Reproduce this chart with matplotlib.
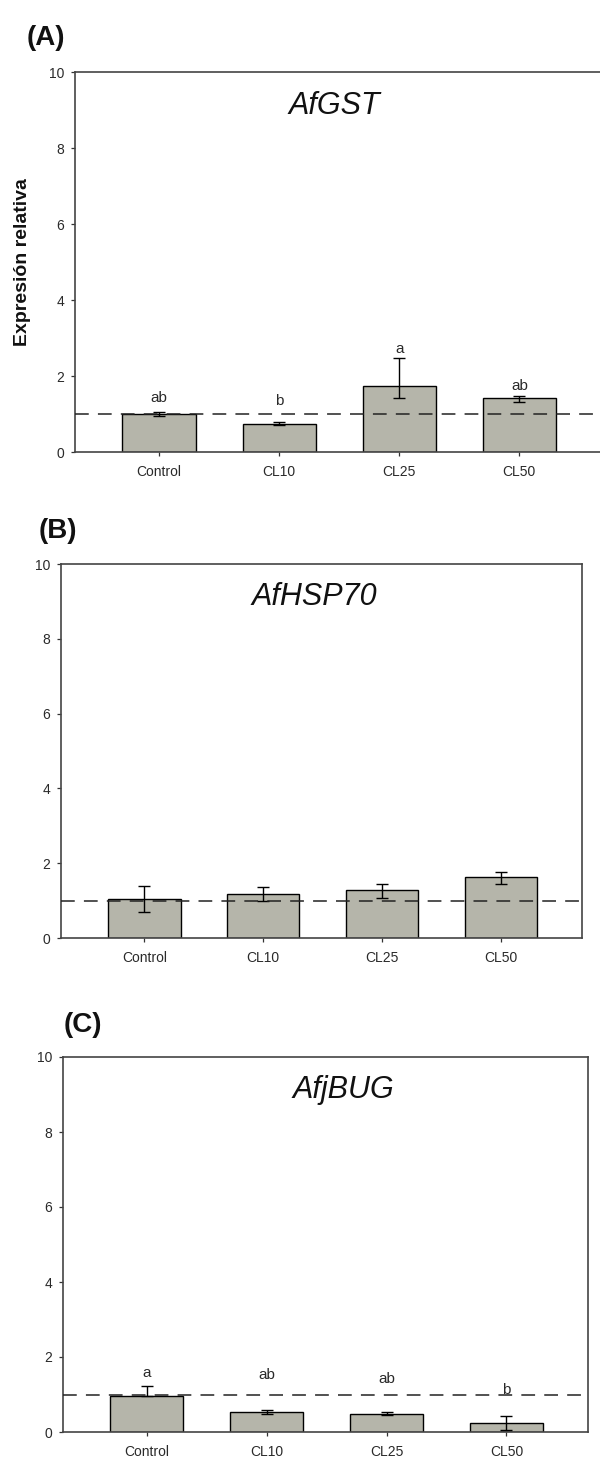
import numpy as np
import matplotlib
matplotlib.use('Agg')
import matplotlib.pyplot as plt

plt.rcParams['font.family'] = ['Liberation Sans', 'DejaVu Sans']

grupos = ['Control', 'CL10', 'CL25', 'CL50']

# (A) AfGST
gst_media = [1.00, 0.74, 1.74, 1.42]
gst_err_inf = [0.04, 0.04, 0.32, 0.10]
gst_err_sup = [0.04, 0.05, 0.73, 0.05]
gst_letras = ['ab', 'b', 'a', 'ab']
gst_letras_y = [1.32, 1.24, 2.61, 1.63]

# (B) AfHSP70
hsp_media = [1.03, 1.18, 1.29, 1.62]
hsp_err_inf = [0.34, 0.18, 0.22, 0.17]
hsp_err_sup = [0.37, 0.18, 0.15, 0.15]

# (C) AfjBUG
bug_media = [0.97, 0.53, 0.49, 0.24]
bug_err_inf = [0.0, 0.05, 0.03, 0.18]
bug_err_sup = [0.27, 0.06, 0.04, 0.18]
bug_letras = ['a', 'ab', 'ab', 'b']
bug_letras_y = [1.46, 1.41, 1.31, 1.01]

paneles = [
    ('(A)', 'AfGST', gst_media, gst_err_inf, gst_err_sup, gst_letras, gst_letras_y),
    ('(B)', 'AfHSP70', hsp_media, hsp_err_inf, hsp_err_sup, None, None),
    ('(C)', 'AfjBUG', bug_media, bug_err_inf, bug_err_sup, bug_letras, bug_letras_y),
]

# posiciones en pixeles (izq, arriba, ancho, alto) medidas sobre la figura 600x1462
cajas = [(75, 72, 526, 380), (61, 564, 521, 374), (63, 1057, 525, 375)]
pos_titulo = [1.46, 1.43, 1.64]
pos_etiqueta = [(46, 38), (58, 531), (83, 1025)]

W, H = 600, 1462
fig = plt.figure(figsize=(6, 14.62), dpi=100)

gris = '#b5b5aa'
texto = '#2a2a2a'
x = np.arange(len(grupos))

for i, (etq, gen, media, e_inf, e_sup, letras, letras_y) in enumerate(paneles):
    l, t, w, h = cajas[i]
    ax = fig.add_axes([l / W, 1 - (t + h) / H, w / W, h / H])
    ax.bar(x, media, width=0.61, color=gris, edgecolor='black', linewidth=1.0, zorder=2)
    ax.errorbar(x, media, yerr=[e_inf, e_sup], fmt='none', ecolor='black',
                elinewidth=1.0, capsize=4.5, capthick=1.0, zorder=3)
    ax.axhline(1.0, color='#222222', linestyle=(0, (9, 6)), linewidth=1.1, zorder=4)
    ax.set_xlim(-0.7, 3.68)
    ax.set_ylim(0, 10)
    ax.set_yticks([0, 2, 4, 6, 8, 10])
    ax.set_xticks(x)
    ax.set_xticklabels(grupos)
    ax.tick_params(axis='both', direction='out', length=3, width=0.9, color='#333333',
                   labelsize=10, labelcolor=texto)
    ax.tick_params(axis='x', pad=6)
    ax.tick_params(axis='y', pad=5)
    for s in ax.spines.values():
        s.set_color('#444444')
        s.set_linewidth(1.2)
    ax.text(pos_titulo[i], 8.9, gen, style='italic', fontsize=22, ha='center',
            va='baseline', color='#111111')
    if letras is not None:
        for xi, lt, ly in zip(x, letras, letras_y):
            ax.text(xi, ly, lt, fontsize=11, ha='center', va='baseline', color=texto)
    if i == 0:
        ax.set_ylabel('Expresión relativa', fontsize=14, fontweight='bold', color='#111111')
        ax.yaxis.set_label_coords((31 - l) / w, 0.5)
    fig.text(pos_etiqueta[i][0] / W, 1 - pos_etiqueta[i][1] / H, etq, fontsize=20,
             fontweight='bold', ha='center', va='center', color='#111111')

fig.savefig('out.png', dpi=100, facecolor='white')
